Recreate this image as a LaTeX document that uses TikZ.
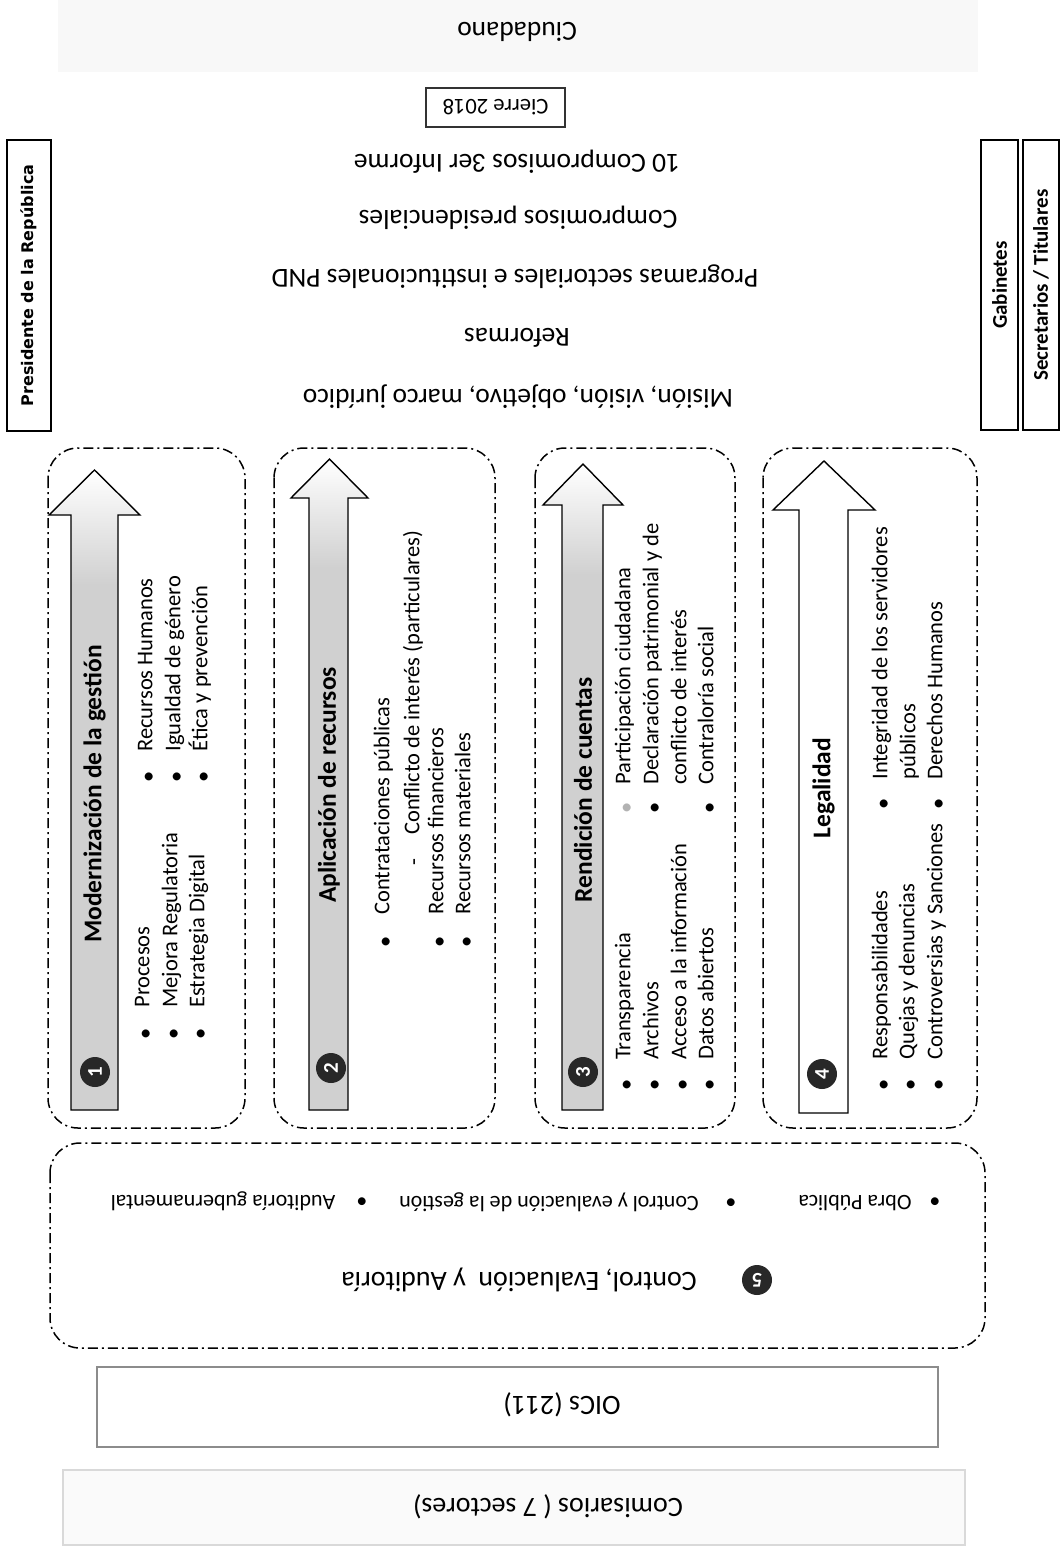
\documentclass[tikz,border=0pt]{standalone}
\usepackage{fontspec}
\setmainfont{Carlito}
\newfontfamily\presfont{DejaVu Sans}
\usepackage{tikz}
\usetikzlibrary{calc}
\definecolor{shaft}{RGB}{208, 208, 208}
\definecolor{numdark}{RGB}{40, 40, 40}
\definecolor{faint}{RGB}{248, 248, 248}

\begin{document}
\begin{tikzpicture}[x=1pt, y=-1pt, thick,
  every node/.style={inner sep=0pt},
  flip/.style={rotate=180, font=\fontsize{27.5}{30}\selectfont},
  bottxt/.style={rotate=180, font=\fontsize{22}{26}\selectfont, text height=0.7em, text depth=0.22em},
  itemtxt/.style={rotate=90, anchor=west, font=\fontsize{22.5}{26}\selectfont, text height=0.7em, text depth=0.22em},
  bul/.style={rotate=90, font=\fontsize{22.5}{26}\selectfont},
  colhead/.style={rotate=90, font=\bfseries\fontsize{25.5}{30}\selectfont},
  pillar/.style={draw, line width=1.5pt, rounded corners=30pt, dash pattern=on 10pt off 4pt on 2pt off 4pt},
  numdot/.style={circle, fill=numdark, text=white, minimum size=30pt, font=\bfseries\fontsize{21}{21}\selectfont},
  sidebox/.style={draw, line width=2pt, rotate=90, font=\bfseries\fontsize{21}{24}\selectfont}
]

  \useasboundingbox (0,0) rectangle (1061,1553);

  % upper part, printed upside down
  \fill[faint] (58,0) rectangle (978,72);
  \node[flip] (ciudadano) at (517,32) {Ciudadano};
  \node[flip, draw=black!80, line width=2pt, minimum width=139pt, minimum height=39pt,
        font=\fontsize{22.5}{24}\selectfont] (cierre) at (495.5,107.5) {Cierre 2018};
  \node[flip] (informe) at (517,162) {10 Compromisos 3er Informe};
  \node[flip] (compromisos) at (518,218) {Compromisos presidenciales};
  \node[flip] (programas) at (515,277) {Programas sectoriales e institucionales PND};
  \node[flip] (reformas) at (517,338) {Reformas};
  \node[flip] (mision) at (518,397) {Misión, visión, objetivo, marco jurídico};

  \node[sidebox, font=\presfont\bfseries\fontsize{16}{20}\selectfont,
        minimum width=291pt, minimum height=44pt] (presidente) at (29,285.5) {Presidente de la República};
  \node[sidebox, minimum width=290pt, minimum height=37pt] (gabinetes) at (999.5,285) {Gabinetes};
  \node[sidebox, minimum width=290pt, minimum height=36pt] (secretarios) at (1041,285) {Secretarios / Titulares};

  % the four pillars
  \foreach \l/\r in {48/245, 274/495, 535/735, 763/977}
    \draw[pillar] (\l,448) rectangle (\r,1128);

  \foreach \sl/\sr/\hl/\hr/\tip/\base in {71/118/49/140/470/515, 309/348/291/368/459/498, 562/603/543/623/464/505} {
    \fill[shaft] (\sl,1110) -- (\sl,\base) -- (\hl,\base) -- ({(\hl+\hr)/2},\tip)
      -- (\hr,\base) -- (\sr,\base) -- (\sr,1110) -- cycle;
    \shade[top color=white, bottom color=shaft] (\sl,{\base+70}) -- (\sl,\base) -- (\hl,\base)
      -- ({(\hl+\hr)/2},\tip) -- (\hr,\base) -- (\sr,\base) -- (\sr,{\base+70}) -- cycle;
    \draw[line width=1.4pt] (\sl,1110) -- (\sl,\base) -- (\hl,\base) -- ({(\hl+\hr)/2},\tip)
      -- (\hr,\base) -- (\sr,\base) -- (\sr,1110) -- cycle;
  }
  \draw[line width=1.4pt, fill=white] (799,1113) -- (799,510) -- (773,510) -- (824,461)
    -- (875,510) -- (848,510) -- (848,1113) -- cycle;

  \node[colhead] (modernizacion) at (94.5,794) {Modernización de la gestión};
  \node[colhead] (aplicacion) at (329,785) {Aplicación de recursos};
  \node[colhead] (rendicion) at (583,790) {Rendición de cuentas};
  \node[colhead] (legalidad) at (823.5,788) {Legalidad};

  \node[numdot, rotate=90] (n1) at (95,1072) {1};
  \node[numdot, rotate=90] (n2) at (331,1068) {2};
  \node[numdot, rotate=90] (n3) at (583,1072) {3};
  \node[numdot, rotate=90] (n4) at (822,1074) {4};

  % 1
  \foreach \x/\lbl [count=\i] in {147/Procesos, 175/Mejora Regulatoria, 202/Estrategia Digital} {
    \node[bul] (ma\i) at (\x,1034) {•};
    \node[itemtxt] (mat\i) at (\x,1008) {\lbl};
  }
  \foreach \x/\lbl [count=\i] in {150/Recursos Humanos, 178/Igualdad de género, 205/Ética y prevención} {
    \node[bul] (mb\i) at (\x,777) {•};
    \node[itemtxt] (mbt\i) at (\x,752) {\lbl};
  }

  % 2
  \foreach \x/\lbl [count=\i] in {387/Contrataciones públicas, 441/Recursos financieros, 468/Recursos materiales} {
    \node[bul] (ap\i) at (\x,942) {•};
    \node[itemtxt] (apt\i) at (\x,915) {\lbl};
  }
  \node[bul] (apdash) at (417,862) {-};
  \node[itemtxt] (conflicto) at (417,835) {Conflicto de interés (particulares)};

  % 3
  \foreach \x/\lbl [count=\i] in {628/Transparencia, 656/Archivos, 684/Acceso a la información, 711/Datos abiertos} {
    \node[bul] (ra\i) at (\x,1085) {•};
    \node[itemtxt] (rat\i) at (\x,1060) {\lbl};
  }
  \node[bul, text=black!30] (rb1) at (628,808) {•};
  \node[itemtxt] (rbt1) at (628,785) {Participación ciudadana};
  \node[bul] (rb2) at (656,808) {•};
  \node[itemtxt] (rbt2) at (656,785) {Declaración patrimonial y de};
  \node[itemtxt] (rbt3) at (684,785) {conflicto de interés};
  \node[bul] (rb4) at (711,808) {•};
  \node[itemtxt] (rbt4) at (711,785) {Contraloría social};

  % 4
  \foreach \x/\lbl [count=\i] in {885/Responsabilidades, 912/Quejas y denuncias, 940/Controversias y Sanciones} {
    \node[bul] (la\i) at (\x,1085) {•};
    \node[itemtxt] (lat\i) at (\x,1060) {\lbl};
  }
  \node[bul] (lb1) at (885,804) {•};
  \node[itemtxt] (lbt1) at (885,780) {Integridad de los servidores};
  \node[itemtxt] (lbt2) at (913,780) {públicos};
  \node[bul] (lb3) at (940,804) {•};
  \node[itemtxt] (lbt3) at (940,780) {Derechos Humanos};

  % 5 and the lower boxes
  \draw[pillar] (50,1143) rectangle (985,1348);
  \node[bottxt] (auditoria) at (223,1198) {Auditoría gubernamental};
  \node[bottxt] (bau) at (362,1198) {•};
  \node[bottxt] (evaluacion) at (549,1199) {Control y evaluación de la gestión};
  \node[bottxt] (bev) at (731,1199) {•};
  \node[bottxt] (obra) at (855,1198) {Obra Pública};
  \node[bottxt] (bob) at (935,1198) {•};
  \node[flip, font=\fontsize{28}{30}\selectfont] (control) at (519,1280) {Control, Evaluación\ \ y Auditoría};
  \node[numdot, rotate=180] (n5) at (757,1280) {5};

  \draw[black!45, line width=1.2pt] (97,1367) rectangle (938,1447);
  \node[flip, font=\fontsize{28}{30}\selectfont] (oics) at (562,1405) {OICs (211)};
  \filldraw[fill=black!2, draw=black!15, line width=1.5pt] (63,1470) rectangle (965,1545);
  \node[flip, font=\fontsize{28}{30}\selectfont] (comisarios) at (548,1507) {Comisarios ( 7 sectores)};

\end{tikzpicture}
\end{document}
